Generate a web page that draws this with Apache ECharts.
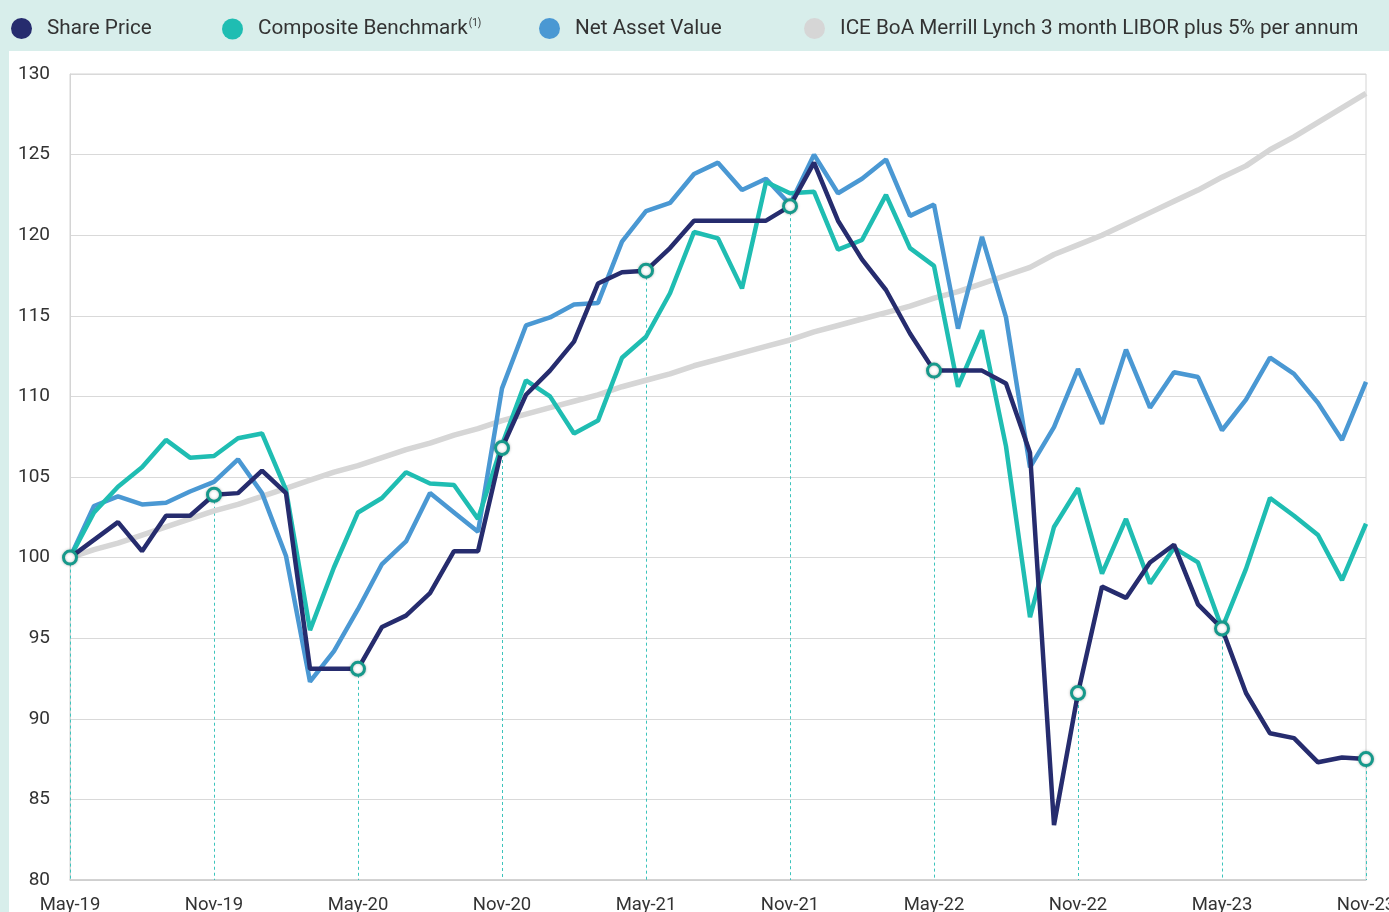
<!DOCTYPE html>
<html>
<head>
<meta charset="utf-8">
<title>Performance</title>
<script src="https://cdn.jsdelivr.net/npm/echarts@6/dist/echarts.min.js"></script>
<style>
  html, body { margin: 0; padding: 0; background: #d8eeeb; overflow: hidden; }
  #chart { width: 1389px; height: 912px; }
</style>
</head>
<body>
<div id="chart"></div>
<script>
// monthly, May-19 .. Nov-23 (rebased to 100)
var months = [
  "May-19", "Jun-19", "Jul-19", "Aug-19", "Sep-19", "Oct-19", "Nov-19", "Dec-19",
  "Jan-20", "Feb-20", "Mar-20", "Apr-20", "May-20", "Jun-20", "Jul-20", "Aug-20",
  "Sep-20", "Oct-20", "Nov-20", "Dec-20", "Jan-21", "Feb-21", "Mar-21", "Apr-21",
  "May-21", "Jun-21", "Jul-21", "Aug-21", "Sep-21", "Oct-21", "Nov-21", "Dec-21",
  "Jan-22", "Feb-22", "Mar-22", "Apr-22", "May-22", "Jun-22", "Jul-22", "Aug-22",
  "Sep-22", "Oct-22", "Nov-22", "Dec-22", "Jan-23", "Feb-23", "Mar-23", "Apr-23",
  "May-23", "Jun-23", "Jul-23", "Aug-23", "Sep-23", "Oct-23", "Nov-23"
];

var sharePrice = [
  100, 101.1, 102.2, 100.4, 102.6, 102.6, 103.9, 104.0, 105.4, 104.0,
  93.1, 93.1, 93.1, 95.7, 96.4, 97.8, 100.4, 100.4, 106.8, 110.1,
  111.6, 113.4, 117.0, 117.7, 117.8, 119.2, 120.9, 120.9, 120.9, 120.9,
  121.8, 124.5, 120.9, 118.5, 116.6, 113.9, 111.6, 111.6, 111.6, 110.8,
  106.5, 83.4, 91.6, 98.2, 97.5, 99.7, 100.8, 97.1, 95.6, 91.6,
  89.1, 88.8, 87.3, 87.6, 87.5
];

var benchmark = [
  100, 102.8, 104.4, 105.6, 107.3, 106.2, 106.3, 107.4, 107.7, 104.2,
  95.5, 99.4, 102.8, 103.7, 105.3, 104.6, 104.5, 102.4, 107.0, 111.0,
  110.0, 107.7, 108.5, 112.4, 113.7, 116.4, 120.2, 119.8, 116.7, 123.3,
  122.6, 122.7, 119.1, 119.7, 122.5, 119.2, 118.1, 110.6, 114.1, 106.9,
  96.3, 101.9, 104.3, 99.0, 102.4, 98.4, 100.6, 99.7, 95.6, 99.3,
  103.7, 102.6, 101.4, 98.6, 102.1
];

var nav = [
  100, 103.2, 103.8, 103.3, 103.4, 104.1, 104.7, 106.1, 104.0, 100.1,
  92.3, 94.2, 96.8, 99.6, 101.0, 104.0, 102.8, 101.6, 110.5, 114.4,
  114.9, 115.7, 115.8, 119.6, 121.5, 122.0, 123.8, 124.5, 122.8, 123.5,
  121.9, 125.0, 122.6, 123.5, 124.7, 121.2, 121.9, 114.2, 119.9, 114.9,
  105.6, 108.1, 111.7, 108.3, 112.9, 109.3, 111.5, 111.2, 107.9, 109.8,
  112.4, 111.4, 109.6, 107.3, 110.9
];

var libor = [
  100.0, 100.5, 100.9, 101.4, 101.9, 102.4, 102.9, 103.3, 103.8, 104.3,
  104.8, 105.3, 105.7, 106.2, 106.7, 107.1, 107.6, 108.0, 108.5, 108.9,
  109.3, 109.7, 110.1, 110.6, 111.0, 111.4, 111.9, 112.3, 112.7, 113.1,
  113.5, 114.0, 114.4, 114.8, 115.2, 115.6, 116.1, 116.5, 117.0, 117.5,
  118.0, 118.8, 119.4, 120.0, 120.7, 121.4, 122.1, 122.8, 123.6, 124.3,
  125.3, 126.1, 127.0, 127.9, 128.8
];

// six-monthly points that get a marker + dashed drop line
var markIdx = [0, 6, 12, 18, 24, 30, 36, 42, 48, 54];

var colors = {
  share: "#262c6e",
  bench: "#1fbdb2",
  nav: "#4a98d3",
  libor: "#d6d6d6"
};

var legendNames = [
  "Share Price",
  "Composite Benchmark",
  "Net Asset Value",
  "ICE BoA Merrill Lynch 3 month LIBOR plus 5% per annum"
];
var legendColors = [colors.share, colors.bench, colors.nav, colors.libor];
var legendLeft = [6, 217, 534, 799];

var chart = echarts.init(document.getElementById("chart"), null, { renderer: "canvas" });

function makeLegend(i) {
  return {
    data: [legendNames[i]],
    left: legendLeft[i],
    top: 13,
    icon: "circle",
    itemWidth: 21,
    itemHeight: 21,
    itemStyle: { color: legendColors[i], borderWidth: 0 },
    lineStyle: { width: 0 },
    selectedMode: false,
    formatter: function (name) {
      if (name === "Composite Benchmark") {
        return "{t|" + name + "}{s|(1)}";
      }
      return "{t|" + name + "}";
    },
    textStyle: {
      color: "#333",
      fontFamily: "Roboto",
      fontSize: 20.7,
      padding: [0, 0, 0, 10],
      rich: {
        t: { fontFamily: "Roboto", fontSize: 20.7, color: "#333" },
        s: { fontFamily: "Roboto", fontSize: 10, color: "#333", padding: [0, 0, 12, 1] }
      }
    }
  };
}

var dropLines = markIdx.map(function (i) {
  return [
    { coord: [months[i], sharePrice[i]] },
    { coord: [months[i], 80] }
  ];
});

chart.setOption({
  animation: false,
  backgroundColor: "#d8eeeb",
  graphic: [
    {
      type: "rect",
      left: 9,
      top: 51,
      z: -10,
      shape: { width: 1380, height: 861 },
      style: { fill: "#ffffff" }
    }
  ],
  legend: [makeLegend(0), makeLegend(1), makeLegend(2), makeLegend(3)],
  grid: {
    left: 70,
    right: 23,
    top: 74,
    bottom: 32,
    containLabel: false,
    outerBoundsMode: "none",
    show: true,
    borderColor: "#d4d4d4",
    borderWidth: 1
  },
  xAxis: {
    type: "category",
    data: months,
    boundaryGap: false,
    axisLine: { lineStyle: { color: "#cccccc", width: 1.5 } },
    axisTick: { show: false },
    axisLabel: {
      interval: 5,
      color: "#333",
      fontFamily: "Roboto",
      fontSize: 18.5,
      margin: 16
    },
    splitLine: { show: false }
  },
  yAxis: {
    type: "value",
    min: 80,
    max: 130,
    interval: 5,
    axisLine: { show: true, lineStyle: { color: "#d4d4d4" } },
    axisTick: { show: false },
    axisLabel: {
      color: "#333",
      fontFamily: "Roboto",
      fontSize: 19,
      margin: 20
    },
    splitLine: { lineStyle: { color: "#d9d9d9", width: 1 } }
  },
  series: [
    {
      name: legendNames[3],
      type: "line",
      data: libor,
      showSymbol: false,
      z: 1,
      itemStyle: { color: colors.libor },
      lineStyle: { color: colors.libor, width: 5.5 }
    },
    {
      name: legendNames[2],
      type: "line",
      data: nav,
      showSymbol: false,
      z: 2,
      itemStyle: { color: colors.nav },
      lineStyle: { color: colors.nav, width: 4.5 }
    },
    {
      name: legendNames[1],
      type: "line",
      data: benchmark,
      showSymbol: false,
      z: 3,
      itemStyle: { color: colors.bench },
      lineStyle: { color: colors.bench, width: 4.5 }
    },
    {
      name: legendNames[0],
      type: "line",
      data: sharePrice,
      z: 4,
      symbol: "circle",
      showAllSymbol: true,
      symbolSize: function (val, params) {
        return markIdx.indexOf(params.dataIndex) >= 0 ? 13 : 0;
      },
      itemStyle: {
        color: "#ffffff",
        borderColor: "#17998b",
        borderWidth: 3,
        shadowColor: "rgba(0,0,0,0.25)",
        shadowBlur: 3
      },
      lineStyle: { color: colors.share, width: 4.5 },
      markLine: {
        silent: true,
        symbol: ["none", "none"],
        label: { show: false },
        lineStyle: { color: "#3cc4bc", type: [3, 3], width: 1 },
        data: dropLines,
        z: 1
      }
    }
  ]
});
</script>
</body>
</html>
